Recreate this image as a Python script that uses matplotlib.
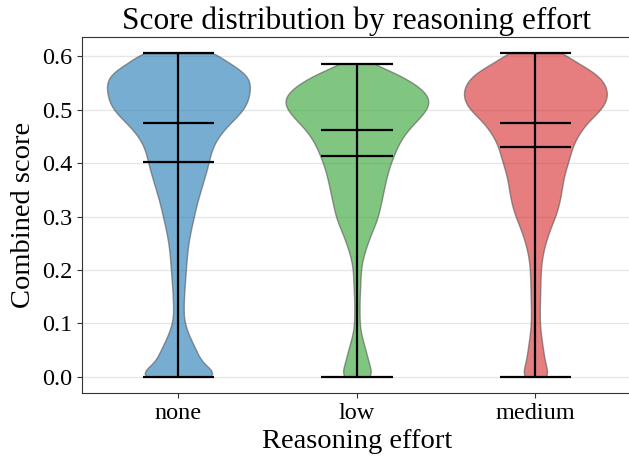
import numpy as np
import matplotlib
matplotlib.use("Agg")
import matplotlib.pyplot as plt

plt.rcParams['font.family'] = ['Liberation Serif', 'DejaVu Serif']

efforts = ['none', 'low', 'medium']
colors = ['tab:blue', 'tab:green', 'tab:red']

# score levels (step 0.0125) and number of runs at each level
grid = [0.0, 0.0125, 0.025, 0.0375, 0.05, 0.0625, 0.075, 0.0875, 0.1, 0.1125, 0.125, 0.1375,
        0.15, 0.1625, 0.175, 0.1875, 0.2, 0.2125, 0.225, 0.2375, 0.25, 0.2625, 0.275, 0.2875,
        0.3, 0.3125, 0.325, 0.3375, 0.35, 0.3625, 0.375, 0.3875, 0.4, 0.4125, 0.425, 0.4375,
        0.45, 0.4625, 0.475, 0.4875, 0.5, 0.5125, 0.525, 0.5375, 0.55, 0.5625, 0.575, 0.5875]

none_levels = grid + [0.606]
none_counts = [142, 52, 46, 42, 36, 29, 22, 17, 12, 10, 10, 11,
               11, 12, 13, 14, 15, 16, 17, 18, 20, 22, 25, 28,
               31, 34, 37, 41, 45, 49, 53, 57, 61, 63, 66, 72,
               80, 90, 104, 118, 133, 139, 143, 143, 148, 142, 130, 110,
               140]

low_levels = grid[:47] + [0.586]
low_counts = [48, 23, 23, 20, 17, 13, 9, 6, 5, 5, 5, 5,
              5, 6, 7, 7, 7, 9, 12, 16, 20, 25, 30, 36,
              41, 43, 46, 49, 51, 54, 57, 60, 64, 70, 74, 80,
              88, 96, 110, 123, 134, 143, 140, 128, 110, 88, 62,
              22]

medium_levels = grid + [0.606]
medium_counts = [44, 21, 20, 18, 16, 14, 12, 10, 9, 9, 9, 9,
                 10, 10, 10, 11, 11, 12, 14, 17, 20, 25, 29, 35,
                 41, 46, 49, 52, 54, 56, 58, 62, 67, 71, 74, 78,
                 86, 95, 104, 118, 138, 145, 150, 150, 143, 135, 115, 95,
                 104]

scores = [np.repeat(none_levels, none_counts),
          np.repeat(low_levels, low_counts),
          np.repeat(medium_levels, medium_counts)]

fig = plt.figure(figsize=(6.29, 4.57), dpi=100)
ax = fig.add_axes([0.1304, 0.140, 0.874, 0.779])

parts = ax.violinplot(scores, positions=[1, 2, 3], widths=0.8,
                      showmeans=True, showmedians=True, showextrema=True,
                      bw_method=lambda k: 0.015 / np.std(k.dataset))

for body, c in zip(parts['bodies'], colors):
    body.set_facecolor(c)
    body.set_alpha(0.6)
    body.set_edgecolor('#555555')
    body.set_linewidth(1.0)

for key in ['cmeans', 'cmedians', 'cmins', 'cmaxes', 'cbars']:
    parts[key].set_color('black')
    parts[key].set_linewidth(1.6)

ax.set_xticks([1, 2, 3])
ax.set_xticklabels(efforts)
ax.tick_params(labelsize=17.5, colors='#333333', labelcolor='black')
ax.set_yticks([0.0, 0.1, 0.2, 0.3, 0.4, 0.5, 0.6])
ax.yaxis.grid(True, color='#e6e6e6', linewidth=0.9)
ax.set_axisbelow(True)
for s in ax.spines.values():
    s.set_color('#333333')

ax.set_title('Score distribution by reasoning effort', fontsize=22.5)
ax.set_xlabel('Reasoning effort', fontsize=20.5)
ax.set_ylabel('Combined score', fontsize=20.5)

fig.savefig('out.png', dpi=100)
